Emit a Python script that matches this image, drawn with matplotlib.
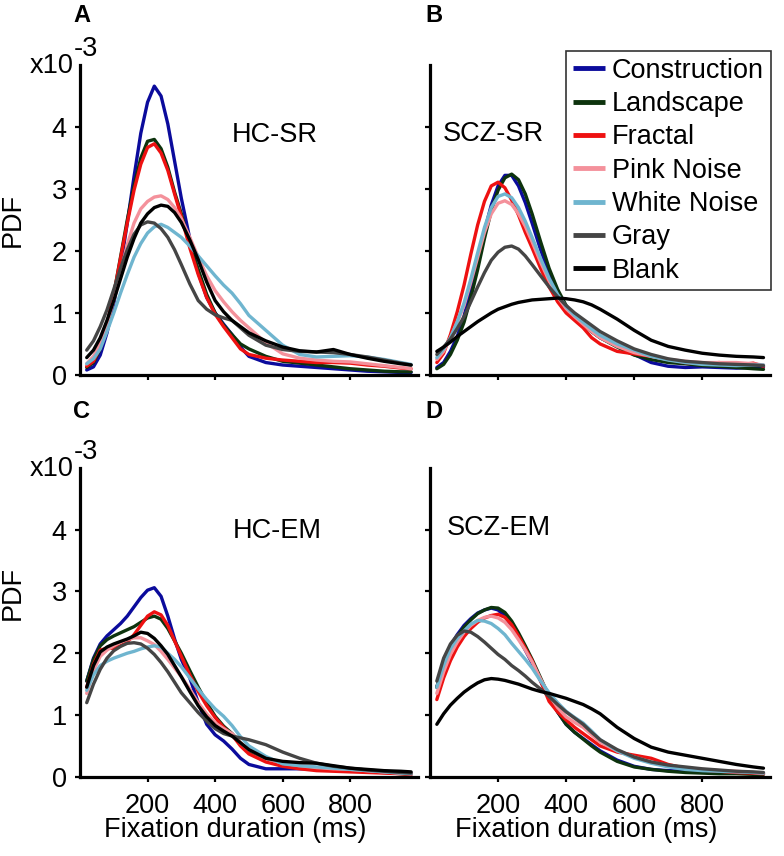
import matplotlib
matplotlib.use("Agg")
import matplotlib.pyplot as plt

plt.rcParams["font.family"] = ["Liberation Sans", "DejaVu Sans"]

# fixation duration grid (ms) at which the PDF curves were read
duration = [20, 40, 60, 80, 100, 120, 140, 160, 180, 200, 220, 240, 260, 280, 300,
            325, 350, 375, 400, 425, 450, 475, 500,
            550, 600, 650, 700, 750, 800, 850, 900, 950, 980]

conditions = ["Construction", "Landscape", "Fractal", "Pink Noise", "White Noise", "Gray", "Blank"]
colors = ["#0b0b9c", "#0d330d", "#ee1111", "#f4919b", "#6fb5cf", "#454545", "#000000"]

# PDF values (x10^-3), one row per condition, same order as `conditions`
hc_sr = [
    [0.08, 0.13, 0.32, 0.68, 1.15, 1.75, 2.45, 3.2, 3.9, 4.4, 4.66, 4.5, 4.05, 3.45, 2.85,
     2.2, 1.65, 1.25, 1.0, 0.82, 0.65, 0.45, 0.3, 0.2, 0.16, 0.14, 0.12, 0.1, 0.08, 0.06, 0.05, 0.04, 0.04],
    [0.12, 0.2, 0.42, 0.8, 1.3, 1.9, 2.5, 3.05, 3.5, 3.77, 3.8, 3.65, 3.35, 2.95, 2.6,
     2.1, 1.7, 1.3, 1.0, 0.8, 0.65, 0.5, 0.42, 0.3, 0.22, 0.19, 0.16, 0.13, 0.1, 0.08, 0.06, 0.05, 0.05],
    [0.14, 0.22, 0.45, 0.82, 1.3, 1.88, 2.45, 2.98, 3.4, 3.67, 3.73, 3.58, 3.3, 2.92, 2.55,
     2.05, 1.62, 1.25, 0.98, 0.78, 0.6, 0.42, 0.33, 0.27, 0.24, 0.22, 0.2, 0.2, 0.19, 0.16, 0.14, 0.11, 0.1],
    [0.18, 0.3, 0.5, 0.82, 1.2, 1.65, 2.1, 2.45, 2.68, 2.8, 2.87, 2.89, 2.83, 2.7, 2.52,
     2.22, 1.9, 1.6, 1.36, 1.18, 1.02, 0.88, 0.76, 0.52, 0.34, 0.27, 0.24, 0.22, 0.21, 0.18, 0.15, 0.12, 0.1],
    [0.18, 0.26, 0.42, 0.7, 1.0, 1.32, 1.62, 1.9, 2.12, 2.29, 2.39, 2.43, 2.38, 2.3, 2.22,
     2.08, 1.92, 1.76, 1.6, 1.45, 1.32, 1.15, 0.96, 0.72, 0.48, 0.33, 0.29, 0.3, 0.31, 0.29, 0.25, 0.2, 0.17],
    [0.4, 0.55, 0.78, 1.05, 1.38, 1.72, 2.02, 2.27, 2.42, 2.47, 2.45, 2.36, 2.22, 2.02, 1.78,
     1.47, 1.2, 1.06, 0.97, 0.92, 0.88, 0.76, 0.64, 0.48, 0.41, 0.38, 0.37, 0.36, 0.33, 0.29, 0.24, 0.19, 0.16],
    [0.28, 0.4, 0.6, 0.88, 1.2, 1.55, 1.9, 2.2, 2.45, 2.6, 2.7, 2.74, 2.72, 2.62, 2.46,
     2.18, 1.86, 1.5, 1.2, 1.02, 0.88, 0.78, 0.68, 0.55, 0.45, 0.39, 0.37, 0.41, 0.33, 0.27, 0.22, 0.18, 0.16],
]

scz_sr = [
    [0.12, 0.2, 0.38, 0.62, 0.95, 1.38, 1.85, 2.32, 2.74, 3.05, 3.22, 3.22, 3.05, 2.78, 2.45,
     2.02, 1.62, 1.3, 1.08, 0.92, 0.82, 0.7, 0.6, 0.47, 0.33, 0.2, 0.14, 0.12, 0.13, 0.12, 0.11, 0.12, 0.13],
    [0.1, 0.17, 0.33, 0.56, 0.85, 1.25, 1.7, 2.2, 2.65, 2.98, 3.18, 3.24, 3.15, 2.92, 2.6,
     2.15, 1.72, 1.38, 1.12, 0.95, 0.82, 0.7, 0.6, 0.45, 0.32, 0.25, 0.2, 0.18, 0.15, 0.14, 0.12, 0.1, 0.09],
    [0.2, 0.35, 0.65, 1.02, 1.45, 1.95, 2.42, 2.8, 3.05, 3.11, 3.02, 2.82, 2.58, 2.3, 2.05,
     1.72, 1.42, 1.18, 1.0, 0.88, 0.76, 0.6, 0.5, 0.38, 0.34, 0.3, 0.25, 0.2, 0.18, 0.2, 0.16, 0.19, 0.14],
    [0.25, 0.38, 0.6, 0.85, 1.12, 1.5, 1.9, 2.3, 2.6, 2.77, 2.81, 2.75, 2.6, 2.4, 2.15,
     1.82, 1.52, 1.26, 1.07, 0.94, 0.82, 0.7, 0.6, 0.46, 0.36, 0.3, 0.25, 0.22, 0.2, 0.2, 0.2, 0.18, 0.16],
    [0.28, 0.42, 0.6, 0.86, 1.16, 1.55, 1.97, 2.38, 2.7, 2.88, 2.92, 2.86, 2.7, 2.48, 2.22,
     1.88, 1.56, 1.3, 1.1, 0.96, 0.85, 0.74, 0.64, 0.5, 0.4, 0.3, 0.24, 0.2, 0.17, 0.16, 0.15, 0.16, 0.16],
    [0.33, 0.45, 0.58, 0.75, 0.94, 1.18, 1.42, 1.65, 1.85, 1.98, 2.06, 2.08, 2.03, 1.92, 1.78,
     1.6, 1.42, 1.26, 1.12, 1.0, 0.9, 0.8, 0.7, 0.55, 0.42, 0.33, 0.26, 0.22, 0.2, 0.18, 0.17, 0.16, 0.15],
    [0.38, 0.45, 0.53, 0.62, 0.7, 0.78, 0.86, 0.93, 1.0, 1.06, 1.1, 1.14, 1.17, 1.19, 1.21,
     1.22, 1.23, 1.24, 1.23, 1.21, 1.18, 1.13, 1.06, 0.9, 0.72, 0.56, 0.46, 0.4, 0.35, 0.32, 0.3, 0.29, 0.28],
]

hc_em = [
    [1.55, 1.92, 2.15, 2.28, 2.38, 2.48, 2.6, 2.75, 2.9, 3.02, 3.06, 2.92, 2.6, 2.23, 1.9,
     1.6, 1.2, 0.85, 0.68, 0.58, 0.45, 0.3, 0.2, 0.13, 0.13, 0.13, 0.12, 0.12, 0.1, 0.09, 0.08, 0.06, 0.05],
    [1.55, 1.9, 2.12, 2.22, 2.28, 2.33, 2.38, 2.43, 2.5, 2.57, 2.6, 2.55, 2.4, 2.2, 2.0,
     1.72, 1.45, 1.2, 0.98, 0.82, 0.7, 0.55, 0.42, 0.3, 0.22, 0.17, 0.14, 0.12, 0.1, 0.08, 0.07, 0.05, 0.04],
    [1.45, 1.82, 2.05, 2.08, 2.08, 2.12, 2.18, 2.3, 2.45, 2.6, 2.67, 2.62, 2.45, 2.2, 1.95,
     1.65, 1.38, 1.15, 0.96, 0.8, 0.68, 0.5, 0.37, 0.24, 0.17, 0.13, 0.1, 0.09, 0.08, 0.07, 0.06, 0.05, 0.04],
    [1.35, 1.72, 1.95, 2.05, 2.12, 2.18, 2.22, 2.25, 2.25, 2.2, 2.14, 2.03, 1.9, 1.76, 1.62,
     1.42, 1.2, 1.02, 0.87, 0.78, 0.7, 0.55, 0.44, 0.3, 0.22, 0.18, 0.15, 0.13, 0.12, 0.1, 0.08, 0.06, 0.05],
    [1.4, 1.65, 1.8, 1.87, 1.92, 1.96, 2.0, 2.03, 2.07, 2.1, 2.12, 2.1, 2.0, 1.9, 1.78,
     1.6, 1.42, 1.25, 1.1, 0.98, 0.83, 0.65, 0.5, 0.33, 0.21, 0.18, 0.16, 0.14, 0.12, 0.1, 0.08, 0.06, 0.05],
    [1.2, 1.5, 1.74, 1.92, 2.04, 2.11, 2.16, 2.17, 2.15, 2.08, 1.98, 1.85, 1.7, 1.53, 1.36,
     1.2, 1.04, 0.9, 0.78, 0.7, 0.66, 0.63, 0.6, 0.52, 0.4, 0.3, 0.22, 0.17, 0.14, 0.11, 0.09, 0.07, 0.06],
    [1.45, 1.8, 2.02, 2.1, 2.15, 2.19, 2.23, 2.28, 2.34, 2.32, 2.24, 2.12, 1.98, 1.8, 1.62,
     1.38, 1.15, 0.97, 0.83, 0.74, 0.66, 0.55, 0.44, 0.3, 0.25, 0.23, 0.22, 0.18, 0.14, 0.12, 0.1, 0.09, 0.08],
]

scz_em = [
    [1.45, 1.85, 2.12, 2.3, 2.45, 2.56, 2.65, 2.7, 2.73, 2.7, 2.6, 2.44, 2.25, 2.05, 1.84,
     1.55, 1.28, 1.05, 0.85, 0.72, 0.62, 0.52, 0.42, 0.27, 0.17, 0.12, 0.1, 0.09, 0.08, 0.07, 0.06, 0.06, 0.05],
    [1.45, 1.82, 2.08, 2.27, 2.42, 2.54, 2.64, 2.7, 2.74, 2.73, 2.66, 2.52, 2.33, 2.12, 1.9,
     1.6, 1.3, 1.05, 0.85, 0.72, 0.61, 0.5, 0.4, 0.25, 0.16, 0.12, 0.09, 0.07, 0.06, 0.05, 0.05, 0.04, 0.04],
    [1.25, 1.6, 1.88, 2.1, 2.27, 2.4, 2.5, 2.57, 2.61, 2.63, 2.58, 2.46, 2.28, 2.08, 1.88,
     1.55, 1.22, 1.05, 0.92, 0.8, 0.7, 0.6, 0.5, 0.4, 0.35, 0.3, 0.2, 0.14, 0.11, 0.09, 0.07, 0.06, 0.05],
    [1.35, 1.7, 1.98, 2.18, 2.34, 2.45, 2.53, 2.58, 2.6, 2.57, 2.5, 2.38, 2.22, 2.05, 1.86,
     1.58, 1.32, 1.12, 0.97, 0.88, 0.8, 0.68, 0.56, 0.42, 0.32, 0.24, 0.18, 0.14, 0.12, 0.1, 0.09, 0.07, 0.06],
    [1.45, 1.8, 2.07, 2.24, 2.36, 2.47, 2.53, 2.52, 2.48, 2.4, 2.3, 2.16, 2.03, 1.9, 1.76,
     1.55, 1.36, 1.2, 1.06, 0.96, 0.87, 0.74, 0.6, 0.42, 0.3, 0.22, 0.16, 0.12, 0.1, 0.09, 0.08, 0.07, 0.06],
    [1.55, 1.92, 2.15, 2.29, 2.36, 2.34, 2.27, 2.18, 2.08, 1.98, 1.9, 1.8, 1.72, 1.63, 1.53,
     1.42, 1.3, 1.17, 1.05, 0.95, 0.85, 0.72, 0.6, 0.44, 0.32, 0.24, 0.19, 0.16, 0.13, 0.11, 0.09, 0.08, 0.07],
    [0.85, 1.02, 1.16, 1.27, 1.37, 1.45, 1.52, 1.57, 1.59, 1.58, 1.56, 1.53, 1.5, 1.46, 1.42,
     1.38, 1.35, 1.31, 1.27, 1.22, 1.17, 1.1, 1.02, 0.8, 0.62, 0.48, 0.4, 0.35, 0.3, 0.25, 0.2, 0.16, 0.14],
]

panel_data = [hc_sr, scz_sr, hc_em, scz_em]
panel_titles = ["HC-SR", "SCZ-SR", "HC-EM", "SCZ-EM"]
panel_letters = ["A", "B", "C", "D"]
xticks = [200, 400, 600, 800]
yticks = [0, 1, 2, 3, 4]

FS = 19.5

fig = plt.figure(figsize=(7.84, 8.56), dpi=100)

# axes rectangles in figure fraction: [left, bottom, width, height]
rects = [
    [0.102, 0.562, 0.431, 0.362],
    [0.5485, 0.562, 0.434, 0.362],
    [0.102, 0.0925, 0.431, 0.361],
    [0.5485, 0.0925, 0.434, 0.361],
]
# where the panel name goes, in data coords
title_pos = [(450, 3.87), (38, 3.89), (453, 3.98), (49, 4.02)]

axes = []
for i, rect in enumerate(rects):
    ax = fig.add_axes(rect)
    for cond, col, vals in zip(conditions, colors, panel_data[i]):
        ax.plot(duration, vals, color=col, lw=2.4, label=cond,
                solid_capstyle="round", solid_joinstyle="round")
    ax.set_xlim(0, 1000)
    ax.set_ylim(0, 5.0)
    ax.spines["top"].set_visible(False)
    ax.spines["right"].set_visible(False)
    ax.spines["left"].set_linewidth(2.3)
    ax.spines["bottom"].set_linewidth(2.3)
    ax.set_xticks(xticks)
    ax.set_yticks(yticks)
    ax.tick_params(direction="out", length=3.5, width=1.6, labelsize=FS)
    ax.tick_params(axis="x", pad=8)
    ax.tick_params(axis="y", pad=6)
    ax.text(*title_pos[i], panel_titles[i], fontsize=FS, ha="left", va="center")
    if i in (0, 1):
        ax.set_xticklabels([])
    else:
        ax.set_xlabel("Fixation duration (ms)", fontsize=FS)
        ax.xaxis.set_label_coords(0.458, -0.13)
    if i in (1, 3):
        ax.set_yticklabels([])
    else:
        ax.set_ylabel("PDF", fontsize=FS)
    axes.append(ax)

axes[0].yaxis.set_label_coords(-0.16, 0.5)
axes[2].yaxis.set_label_coords(-0.16, 0.595)

# panel letters and the x10^-3 scale notes
letter_xy = [(73, 16), (425, 16), (73, 411), (425, 411)]
for letter, (px, py) in zip(panel_letters, letter_xy):
    fig.text(px / 784, 1 - py / 856, letter, fontsize=17, fontweight="bold", ha="left", va="center")

for base_y in (66, 469):
    fig.text(30 / 784, 1 - base_y / 856, "x10", fontsize=FS, ha="left", va="center")
    fig.text(74 / 784, 1 - (base_y - 17) / 856, "-3", fontsize=FS, ha="left", va="center")

leg = axes[1].legend(loc="upper left", bbox_to_anchor=(566 / 784, 1 - 51 / 856),
                     bbox_transform=fig.transFigure, fontsize=FS, frameon=True,
                     fancybox=False, edgecolor="black", handlelength=1.2,
                     handletextpad=0.25, labelspacing=0.27, borderpad=0.25,
                     borderaxespad=0)
leg.get_frame().set_linewidth(1.2)
for line in leg.get_lines():
    line.set_linewidth(3.5)
    line.set_solid_capstyle("butt")

fig.savefig("out.png", dpi=100)
